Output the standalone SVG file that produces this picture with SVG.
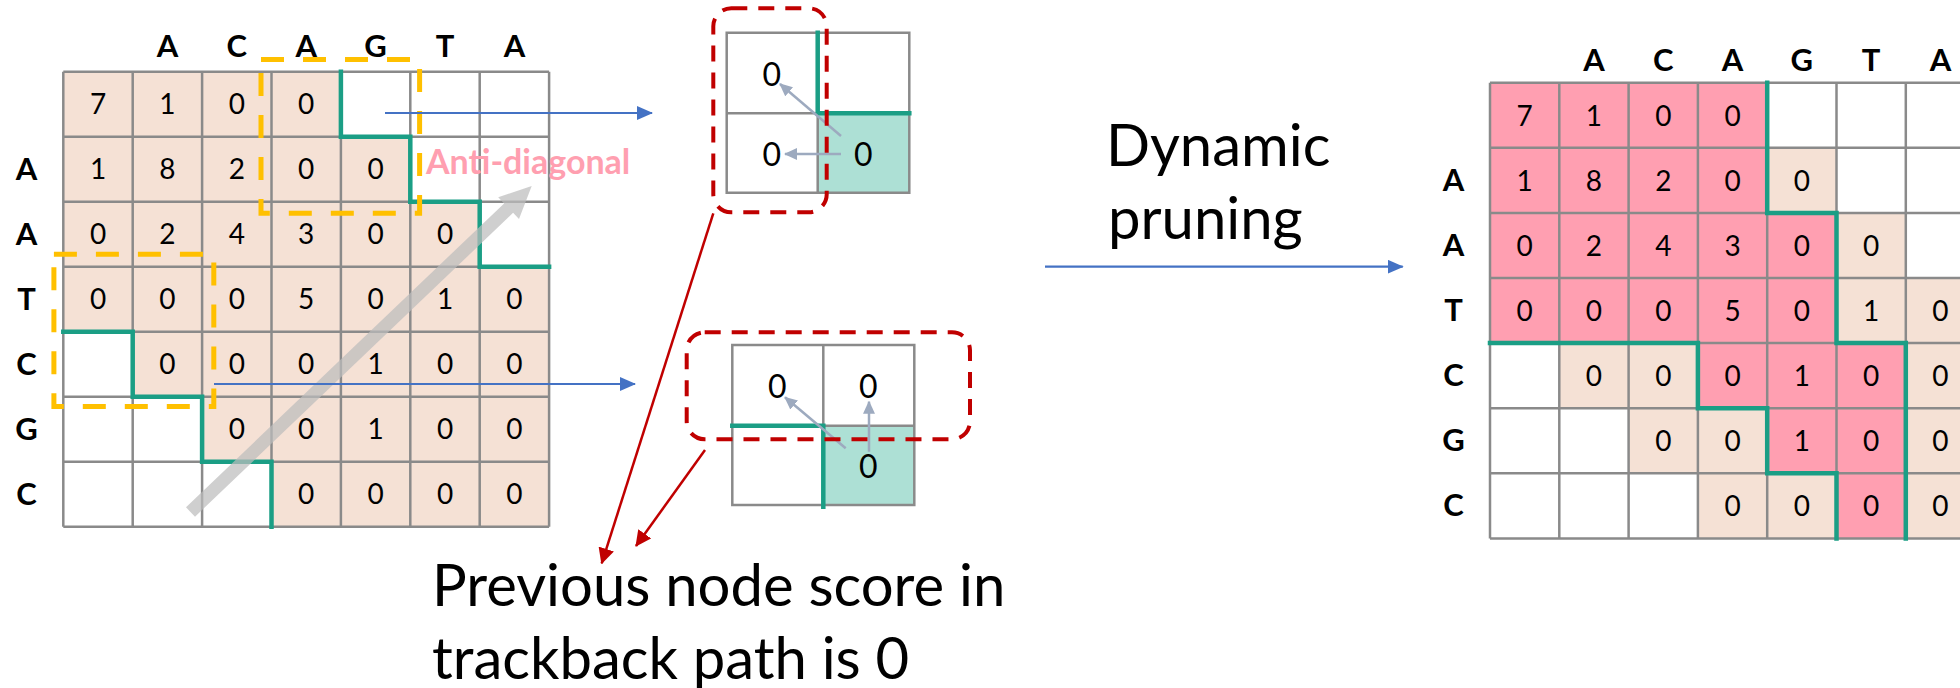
<svg xmlns="http://www.w3.org/2000/svg" width="1960" height="688" viewBox="0 0 1960 688">
  <style>
    .bg { fill: #ffffff; }
    .peach { fill: #F5E1D5; }
    .pink { fill: #FF9FB1; }
    .teal { fill: #ADE0D5; }
    .grid { fill: none; stroke: #8A8A8A; stroke-width: 2.5; }
    .path { fill: none; stroke: #1B9E85; stroke-width: 4.5; stroke-linecap: square; }
    .num { font-family: Lato, "Liberation Sans", sans-serif; font-size: 28px; fill: #000; text-anchor: middle; }
    .big { font-family: Lato, "Liberation Sans", sans-serif; font-size: 32px; fill: #000; text-anchor: middle; }
    .lab { font-family: Lato, "Liberation Sans", sans-serif; font-size: 31px; font-weight: bold; fill: #000; text-anchor: middle; }
    .caption { font-family: Lato, "Liberation Sans", sans-serif; font-size: 58px; fill: #000; }
    .anti { font-family: Lato, "Liberation Sans", sans-serif; font-size: 34px; font-weight: bold; fill: #FF9FB0; }
    .ydash { fill: none; stroke: #FFC000; stroke-width: 5; stroke-dasharray: 23 19; }
    .rdash { fill: none; stroke: #C00000; stroke-width: 4; stroke-dasharray: 16 11; }
    .blue { stroke: #4472C4; stroke-width: 2.2; fill: none; }
    .red { stroke: #C00000; stroke-width: 2.5; fill: none; }
    .trace { stroke: #9DAABF; stroke-width: 2.5; fill: none; }
  </style>
  <defs>
    <marker id="ahBlue" markerUnits="userSpaceOnUse" markerWidth="16" markerHeight="14" refX="15" refY="7" orient="auto">
      <path d="M0,0 L16,7 L0,14 Z" fill="#4472C4"/>
    </marker>
    <marker id="ahRed" markerUnits="userSpaceOnUse" markerWidth="16" markerHeight="16" refX="15" refY="8" orient="auto">
      <path d="M0,0 L16,8 L0,16 Z" fill="#C00000"/>
    </marker>
    <marker id="ahTrace" markerUnits="userSpaceOnUse" markerWidth="13" markerHeight="12" refX="12" refY="6" orient="auto">
      <path d="M0,0 L13,6 L0,12 Z" fill="#9DAABF"/>
    </marker>
  </defs>

  <rect class="bg" x="0" y="0" width="1960" height="688"/>

  <!-- Score matrix before pruning -->
  <g id="matrix-left">
    <g>
      <rect class="peach" x="63.3" y="71.7" width="277.6" height="65"/>
      <rect class="peach" x="63.3" y="136.7" width="347" height="65"/>
      <rect class="peach" x="63.3" y="201.7" width="416.4" height="65"/>
      <rect class="peach" x="63.3" y="266.7" width="485.8" height="65"/>
      <rect class="peach" x="132.7" y="331.7" width="416.4" height="65"/>
      <rect class="peach" x="202.1" y="396.7" width="347" height="65"/>
      <rect class="peach" x="271.5" y="461.7" width="277.6" height="65"/>
    </g>
    <path class="grid" d="M63.3,71.7V526.7M132.7,71.7V526.7M202.1,71.7V526.7M271.5,71.7V526.7M340.9,71.7V526.7M410.3,71.7V526.7M479.7,71.7V526.7M549.1,71.7V526.7M63.3,71.7H549.1M63.3,136.7H549.1M63.3,201.7H549.1M63.3,266.7H549.1M63.3,331.7H549.1M63.3,396.7H549.1M63.3,461.7H549.1M63.3,526.7H549.1"/>
    <path class="path" d="M340.9,71.7V136.7H410.3V201.7H479.7V266.7H549.1"/>
    <path class="path" d="M63.3,331.7H132.7V396.7H202.1V461.7H271.5V526.7"/>
    <g class="lab">
      <text x="167.4" y="57">A</text><text x="236.8" y="57">C</text><text x="306.2" y="57">A</text>
      <text x="375.6" y="57">G</text><text x="445" y="57">T</text><text x="514.4" y="57">A</text>
      <text x="26.5" y="180">A</text><text x="26.5" y="245">A</text><text x="26.5" y="310">T</text>
      <text x="26.5" y="375">C</text><text x="26.5" y="440">G</text><text x="26.5" y="505">C</text>
    </g>
    <g class="num">
      <text x="98" y="114">7</text><text x="167.4" y="114">1</text><text x="236.8" y="114">0</text><text x="306.2" y="114">0</text>
      <text x="98" y="179">1</text><text x="167.4" y="179">8</text><text x="236.8" y="179">2</text><text x="306.2" y="179">0</text><text x="375.6" y="179">0</text>
      <text x="98" y="244">0</text><text x="167.4" y="244">2</text><text x="236.8" y="244">4</text><text x="306.2" y="244">3</text><text x="375.6" y="244">0</text><text x="445" y="244">0</text>
      <text x="98" y="309">0</text><text x="167.4" y="309">0</text><text x="236.8" y="309">0</text><text x="306.2" y="309">5</text><text x="375.6" y="309">0</text><text x="445" y="309">1</text><text x="514.4" y="309">0</text>
      <text x="167.4" y="374">0</text><text x="236.8" y="374">0</text><text x="306.2" y="374">0</text><text x="375.6" y="374">1</text><text x="445" y="374">0</text><text x="514.4" y="374">0</text>
      <text x="236.8" y="439">0</text><text x="306.2" y="439">0</text><text x="375.6" y="439">1</text><text x="445" y="439">0</text><text x="514.4" y="439">0</text>
      <text x="306.2" y="504">0</text><text x="375.6" y="504">0</text><text x="445" y="504">0</text><text x="514.4" y="504">0</text>
    </g>
    <!-- anti-diagonal sweep -->
    <polygon points="186,507.3 504.1,203.4 498.2,197.3 531.7,186 519,218.9 513.1,212.8 195,516.7" fill="#BDBDBD" fill-opacity="0.72"/>
    <text class="anti" x="426" y="174">Anti-diagonal</text>
    <rect class="ydash" x="261" y="59.6" width="158.6" height="153.6"/>
    <rect class="ydash" x="53.9" y="254.3" width="159.9" height="152.1"/>
  </g>

  <!-- Zoomed 2x2 window: left neighbours -->
  <g id="window-top">
    <rect class="teal" x="817.7" y="113.3" width="91.6" height="79.4"/>
    <path class="grid" d="M726.7,32.7H909.3V192.7H726.7ZM817.7,32.7V192.7M726.7,113.3H909.3"/>
    <path class="path" d="M817.7,32.7V113.3H909.3"/>
    <g class="big">
      <text x="771.7" y="86">0</text>
      <text x="771.7" y="166">0</text>
      <text x="863.3" y="166">0</text>
    </g>
    <line class="trace" x1="841" y1="136" x2="780" y2="84" marker-end="url(#ahTrace)"/>
    <line class="trace" x1="841" y1="154" x2="785" y2="154" marker-end="url(#ahTrace)"/>
    <rect class="rdash" x="713.3" y="8.3" width="113.4" height="204" rx="18"/>
  </g>

  <!-- Zoomed 2x2 window: upper neighbours -->
  <g id="window-bottom">
    <rect class="teal" x="823.3" y="425.7" width="91" height="79.3"/>
    <path class="grid" d="M732.3,345H914.3V505H732.3ZM823.3,345V505M732.3,425.7H914.3"/>
    <path class="path" d="M732.3,425.7H823.3V506.7"/>
    <g class="big">
      <text x="777.3" y="398">0</text>
      <text x="868.3" y="398">0</text>
      <text x="868.3" y="478">0</text>
    </g>
    <line class="trace" x1="845.7" y1="448.3" x2="785" y2="397.3" marker-end="url(#ahTrace)"/>
    <line class="trace" x1="869" y1="451.7" x2="869" y2="401.7" marker-end="url(#ahTrace)"/>
    <rect class="rdash" x="686.7" y="332.3" width="283.3" height="107" rx="18"/>
  </g>

  <!-- Score matrix after pruning -->
  <g id="matrix-right">
    <g>
      <rect class="pink" x="1490" y="82.7" width="277.2" height="130.2"/>
      <rect class="pink" x="1490" y="212.9" width="346.5" height="130.2"/>
      <rect class="pink" x="1697.9" y="343.1" width="207.9" height="65.1"/>
      <rect class="pink" x="1767.2" y="408.2" width="138.6" height="65.1"/>
      <rect class="pink" x="1836.5" y="473.3" width="69.3" height="65.1"/>
      <rect class="peach" x="1767.2" y="147.8" width="69.3" height="65.1"/>
      <rect class="peach" x="1836.5" y="212.9" width="69.3" height="65.1"/>
      <rect class="peach" x="1836.5" y="278" width="138.6" height="65.1"/>
      <rect class="peach" x="1559.3" y="343.1" width="138.6" height="65.1"/>
      <rect class="peach" x="1905.8" y="343.1" width="69.3" height="195.3"/>
      <rect class="peach" x="1628.6" y="408.2" width="138.6" height="65.1"/>
      <rect class="peach" x="1697.9" y="473.3" width="138.6" height="65.1"/>
    </g>
    <path class="grid" d="M1490,82.7V538.4M1559.3,82.7V538.4M1628.6,82.7V538.4M1697.9,82.7V538.4M1767.2,82.7V538.4M1836.5,82.7V538.4M1905.8,82.7V538.4M1975.1,82.7V538.4M1490,82.7H1975.1M1490,147.8H1975.1M1490,212.9H1975.1M1490,278H1975.1M1490,343.1H1975.1M1490,408.2H1975.1M1490,473.3H1975.1M1490,538.4H1975.1"/>
    <path class="path" d="M1767.2,82.7V212.9H1836.5V343.1H1905.8V538.4"/>
    <path class="path" d="M1490,343.1H1697.9V408.2H1767.2V473.3H1836.5V538.4"/>
    <g class="lab">
      <text x="1593.95" y="71">A</text><text x="1663.25" y="71">C</text><text x="1732.55" y="71">A</text>
      <text x="1801.85" y="71">G</text><text x="1871.15" y="71">T</text><text x="1940.45" y="71">A</text>
      <text x="1453.6" y="191">A</text><text x="1453.6" y="256">A</text><text x="1453.6" y="321">T</text>
      <text x="1453.6" y="386">C</text><text x="1453.6" y="451">G</text><text x="1453.6" y="516">C</text>
    </g>
    <g class="num">
      <text x="1524.65" y="125.5">7</text><text x="1593.95" y="125.5">1</text><text x="1663.25" y="125.5">0</text><text x="1732.55" y="125.5">0</text>
      <text x="1524.65" y="190.5">1</text><text x="1593.95" y="190.5">8</text><text x="1663.25" y="190.5">2</text><text x="1732.55" y="190.5">0</text><text x="1801.85" y="190.5">0</text>
      <text x="1524.65" y="255.5">0</text><text x="1593.95" y="255.5">2</text><text x="1663.25" y="255.5">4</text><text x="1732.55" y="255.5">3</text><text x="1801.85" y="255.5">0</text><text x="1871.15" y="255.5">0</text>
      <text x="1524.65" y="320.5">0</text><text x="1593.95" y="320.5">0</text><text x="1663.25" y="320.5">0</text><text x="1732.55" y="320.5">5</text><text x="1801.85" y="320.5">0</text><text x="1871.15" y="320.5">1</text><text x="1940.45" y="320.5">0</text>
      <text x="1593.95" y="385.5">0</text><text x="1663.25" y="385.5">0</text><text x="1732.55" y="385.5">0</text><text x="1801.85" y="385.5">1</text><text x="1871.15" y="385.5">0</text><text x="1940.45" y="385.5">0</text>
      <text x="1663.25" y="450.5">0</text><text x="1732.55" y="450.5">0</text><text x="1801.85" y="450.5">1</text><text x="1871.15" y="450.5">0</text><text x="1940.45" y="450.5">0</text>
      <text x="1732.55" y="515.5">0</text><text x="1801.85" y="515.5">0</text><text x="1871.15" y="515.5">0</text><text x="1940.45" y="515.5">0</text>
    </g>
  </g>

  <g id="label-pruning">
    <text class="caption" x="1106" y="166">Dynamic</text>
    <text class="caption" x="1108" y="239">pruning</text>
  </g>

  <g id="label-condition">
    <text class="caption" x="432" y="606">Previous node score in</text>
    <text class="caption" x="432" y="679">trackback path is 0</text>
  </g>

  <!-- connectors -->
  <g id="connectors">
    <line class="blue" x1="385" y1="113" x2="652" y2="113" marker-end="url(#ahBlue)"/>
    <line class="blue" x1="214" y1="384" x2="635" y2="384" marker-end="url(#ahBlue)"/>
    <line class="blue" x1="1045" y1="266.7" x2="1402.7" y2="266.7" marker-end="url(#ahBlue)"/>
    <line class="red" x1="713.3" y1="213.3" x2="601.7" y2="563.3" marker-end="url(#ahRed)"/>
    <line class="red" x1="705" y1="450" x2="636" y2="546" marker-end="url(#ahRed)"/>
  </g>
</svg>
